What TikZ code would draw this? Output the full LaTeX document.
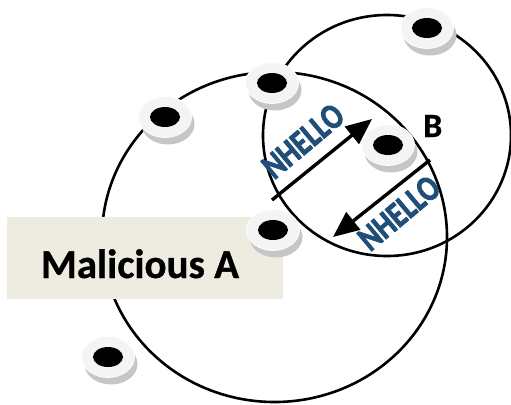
\documentclass[tikz,border=0pt]{standalone}
\usepackage{fontspec}
\setmainfont{Carlito}
\newfontfamily\heavyfont{Carlito Bold}[FakeBold=2.5]
\newfontfamily\labelfont{Carlito Bold}[FakeBold=0.8]
\usetikzlibrary{arrows.meta,shapes.geometric,shadows}
\definecolor{boxfill}{HTML}{EEECE1}
\definecolor{nblue}{HTML}{1F4E79}
\newcommand\narrowtext[1]{\scalebox{0.8}[1]{#1}}
\begin{document}
\begin{tikzpicture}[x=1pt,y=-1pt,
  ring/.style={line width=2.6pt, black},
  disk/.style={ellipse, minimum width=53pt, minimum height=41pt, inner sep=0pt,
    fill=gray!9, draw=white, line width=0.8pt,
    general shadow={shadow xshift=3pt, shadow yshift=-7pt, fill=gray!45},
    path picture={\fill[black] (path picture bounding box.center) ellipse [x radius=15pt, y radius=10pt];}},
  arr/.style={line width=3.4pt, -{Triangle[length=26pt,width=22pt]}},
  hello/.style={text=nblue, font=\heavyfont\fontsize{36}{36}\selectfont, inner sep=0pt},
  boxst/.style={fill=boxfill, draw=none, minimum width=276pt, minimum height=82pt, inner sep=0pt},
  big/.style={font=\labelfont\fontsize{41}{41}\selectfont, inner sep=0pt, anchor=base},
  lbl/.style={font=\labelfont\fontsize{34}{34}\selectfont, inner sep=0pt, anchor=base west}
]
\useasboundingbox (0,0) rectangle (511,404);
% ranges
\draw[ring] (274.5,237) ellipse [x radius=172.5pt, y radius=165pt];
\draw[ring] (387,135.5) ellipse [x radius=124pt, y radius=120.5pt];
% malicious box
\node[boxst] (box) at (145,258) {};
\node[big] (mtext) at (140,278) {Malicious A};
% arrows
\coordinate (a1s) at (272,200);
\coordinate (a1e) at (372,119);
\coordinate (a2s) at (430,160);
\coordinate (a2e) at (333,237);
\draw[arr] (a1s) -- (a1e);
\draw[arr] (a2s) -- (a2e);
\node[hello, rotate=40] (h1) at (303,141) {\narrowtext{NHELLO}};
\node[hello, rotate=40] (h2) at (399,213) {\narrowtext{NHELLO}};
% nodes
\node[disk] (n1) at (165,117) {};
\node[disk] (n2) at (272,83) {};
\node[disk] (n3) at (427,28) {};
\node[disk] (nb) at (388,145) {};
\node[disk] (na) at (273,230) {};
\node[disk] (n6) at (108,357) {};
\node[lbl] (lb) at (423,137) {B};
\end{tikzpicture}
\end{document}
